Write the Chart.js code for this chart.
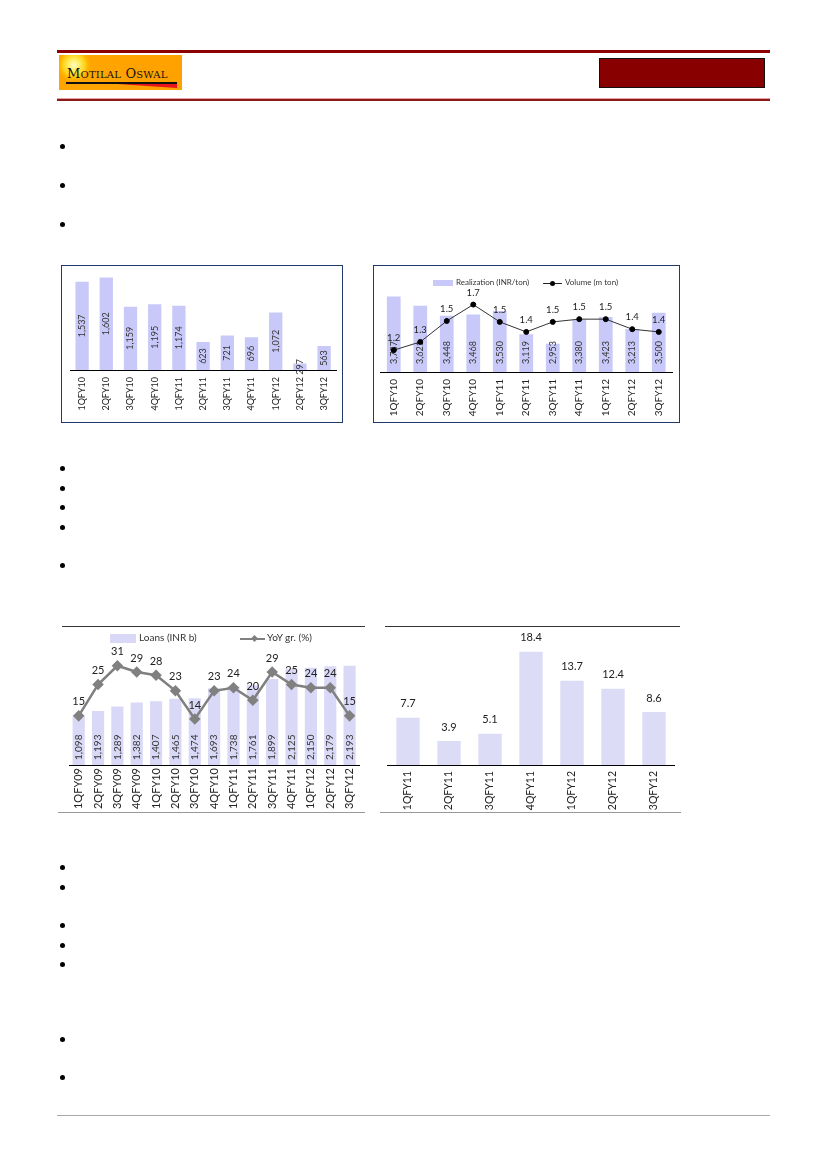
<!DOCTYPE html>
<html>
<head>
<meta charset="utf-8">
<script src="https://cdn.jsdelivr.net/npm/chart.js@4.4.1/dist/chart.umd.min.js"></script>
<style>
  body { margin: 0; background: #fff; width: 827px; height: 1170px; position: relative; overflow: hidden; font-family: Lato, "Open Sans", sans-serif; }
  .abs { position: absolute; }
  .bullet { position: absolute; width: 5px; height: 5px; border-radius: 50%; background: #000; left: 60px; }
  #logo { left: 59px; top: 55px; width: 123px; height: 35px; overflow: hidden;
          background: radial-gradient(circle at 15px 10px, #fffbd0 0, #fff06a 5px, #ffd21a 11px, #ffb300 14px, #ffa500 17px, #ffa200 60px); }
  #logo .brand { position: absolute; left: 8px; top: 11px; font-family: "DejaVu Serif", serif; font-size: 13px; color: #111; letter-spacing: 0.2px; white-space: nowrap; }
  #logo .brand small { font-size: 10px; }
  #logo .uline { position: absolute; left: 7px; top: 27px; width: 111px; height: 1.5px; background: #111; }
  #logo .swoosh { position: absolute; left: 58px; top: 29px; width: 60px; height: 4px; background: #e8141b; clip-path: polygon(0 0, 100% 0, 100% 100%); }
  .chartbox { position: absolute; }
  .legend { position: absolute; font-size: 8px; color: #333; white-space: nowrap; }
  .legend span { position: absolute; top: 0; }
</style>
</head>
<body>
<!-- header -->
<div class="abs" style="left:57px;top:50px;width:713px;height:3px;background:#8b0000;"></div>
<div id="logo" class="abs"><span class="brand">M<small>OTILAL</small> O<small>SWAL</small></span><div class="uline"></div><div class="swoosh"></div></div>
<div class="abs" style="left:599px;top:58px;width:164px;height:28px;background:#880000;border:1px solid #111;"></div>
<div class="abs" style="left:57px;top:98px;width:713px;height:1px;background:#e6a0a0;"></div>
<div class="abs" style="left:57px;top:99px;width:713px;height:2px;background:#8b1a1a;"></div>

<!-- bullets -->
<div class="bullet" style="top:144px"></div>
<div class="bullet" style="top:183px"></div>
<div class="bullet" style="top:222px"></div>
<div class="bullet" style="top:466px"></div>
<div class="bullet" style="top:486px"></div>
<div class="bullet" style="top:505px"></div>
<div class="bullet" style="top:525px"></div>
<div class="bullet" style="top:563px"></div>
<div class="bullet" style="top:865px"></div>
<div class="bullet" style="top:885px"></div>
<div class="bullet" style="top:923px"></div>
<div class="bullet" style="top:943px"></div>
<div class="bullet" style="top:962px"></div>
<div class="bullet" style="top:1037px"></div>
<div class="bullet" style="top:1075px"></div>

<!-- chart 1 -->
<div class="abs" style="left:61px;top:265px;width:280px;height:156px;border:1px solid #1f3a68;"></div>
<div class="chartbox" style="left:62px;top:266px;width:280px;height:156px;"><canvas id="c1"></canvas></div>

<!-- chart 2 -->
<div class="abs" style="left:373px;top:265px;width:305px;height:156px;border:1px solid #1f3a68;"></div>
<div class="chartbox" style="left:374px;top:266px;width:305px;height:156px;"><canvas id="c2"></canvas></div>
<div class="legend" style="left:0;top:277px;">
  <div class="abs" style="left:433px;top:3px;width:20px;height:6px;background:#c9c9f9;"></div>
  <span style="left:456px;">Realization (INR/ton)</span>
  <div class="abs" style="left:543px;top:6px;width:19px;height:0;border-top:1px solid #222;"></div>
  <div class="abs" style="left:550px;top:4px;width:5px;height:5px;border-radius:50%;background:#000;"></div>
  <span style="left:565px;">Volume (m ton)</span>
</div>

<!-- chart 3 -->
<div class="abs" style="left:62px;top:626px;width:303px;height:1px;background:#333;"></div>
<div class="abs" style="left:58px;top:812px;width:307px;height:1px;background:#999;"></div>
<div class="chartbox" style="left:60px;top:627px;width:306px;height:185px;"><canvas id="c3"></canvas></div>
<div class="legend" style="left:0;top:631px;font-size:10px;">
  <div class="abs" style="left:110px;top:3px;width:26px;height:9px;background:#d9d9f7;"></div>
  <span style="left:139px;">Loans (INR b)</span>
  <div class="abs" style="left:240px;top:7px;width:25px;height:0;border-top:2px solid #808080;"></div>
  <div class="abs" style="left:252px;top:5px;width:5px;height:5px;background:#808080;transform:rotate(45deg);"></div>
  <span style="left:267px;">YoY gr. (%)</span>
</div>

<!-- chart 4 -->
<div class="abs" style="left:385px;top:626px;width:295px;height:1px;background:#333;"></div>
<div class="abs" style="left:380px;top:812px;width:301px;height:1px;background:#999;"></div>
<div class="chartbox" style="left:383px;top:627px;width:297px;height:185px;"><canvas id="c4"></canvas></div>

<!-- footer -->
<div class="abs" style="left:57px;top:1115px;width:713px;height:1px;background:#aaa;"></div>

<script>
// chart 1
const c1Labels = ['1QFY10','2QFY10','3QFY10','4QFY10','1QFY11','2QFY11','3QFY11','4QFY11','1QFY12','2QFY12','3QFY12'];
const c1Values = [1537, 1602, 1159, 1195, 1174, 623, 721, 696, 1072, 297, 563];

// chart 2
const c2Labels = ['1QFY10','2QFY10','3QFY10','4QFY10','1QFY11','2QFY11','3QFY11','4QFY11','1QFY12','2QFY12','3QFY12'];
const c2Realization = [3787, 3621, 3448, 3468, 3530, 3119, 2953, 3380, 3423, 3213, 3500];
const c2Volume = [1.2, 1.29, 1.52, 1.7, 1.51, 1.4, 1.51, 1.54, 1.54, 1.43, 1.4];

// chart 3
const c3Labels = ['1QFY09','2QFY09','3QFY09','4QFY09','1QFY10','2QFY10','3QFY10','4QFY10','1QFY11','2QFY11','3QFY11','4QFY11','1QFY12','2QFY12','3QFY12'];
const c3Loans = [1098, 1193, 1289, 1382, 1407, 1465, 1474, 1693, 1738, 1761, 1899, 2125, 2150, 2179, 2193];
const c3Growth = [15, 25, 31, 29, 28, 23, 14, 23, 24, 20, 29, 25, 24, 24, 15];

// chart 4
const c4Labels = ['1QFY11','2QFY11','3QFY11','4QFY11','1QFY12','2QFY12','3QFY12'];
const c4Values = [7.7, 3.9, 5.1, 18.4, 13.7, 12.4, 8.6];

const FONT = 'Lato, "Open Sans", sans-serif';
const commas = v => v.toLocaleString('en-US');

// draws value labels for a dataset right after that dataset is drawn
const valueLabels = {
    id: 'valueLabels',
    afterDatasetDraw(chart, args) {
        const ds = chart.data.datasets[args.index];
        const lab = ds.valueLabels;
        if (!lab) return;
        const ctx = chart.ctx;
        const bottom = chart.chartArea.bottom;
        args.meta.data.forEach((el, j) => {
            const txt = lab.fmt(ds.data[j]);
            const base = Math.min(el.base, bottom); // axis doesn't start at 0
            let y;
            if (lab.pos === 'center') y = (el.y + base) / 2;
            else if (lab.pos === 'base') y = base - lab.offset;
            else y = el.y - lab.offset;
            ctx.save();
            ctx.font = lab.size + 'px ' + FONT;
            ctx.fillStyle = lab.color;
            ctx.translate(el.x, y);
            if (lab.rotate) ctx.rotate(-Math.PI / 2);
            ctx.textAlign = lab.pos === 'base' ? 'left' : 'center';
            ctx.textBaseline = 'middle';
            ctx.fillText(txt, 0, 0);
            ctx.restore();
        });
    }
};

function xAxis(size, padding, height) {
    return {
        grid: { display: false, drawTicks: false },
        border: { display: true, color: '#000', width: 1 },
        ticks: { autoSkip: false, minRotation: 90, maxRotation: 90, padding: padding, color: '#222', font: { family: FONT, size: size } },
        afterFit: s => { s.height = height; }
    };
}

function hidden(min, max) {
    return { display: false, min: min, max: max };
}

const baseOptions = (padding) => ({
    responsive: true,
    maintainAspectRatio: false,
    animation: false,
    layout: { padding: padding },
    plugins: { legend: { display: false }, tooltip: { enabled: false } }
});

new Chart(document.getElementById('c1'), {
    type: 'bar',
    data: {
        labels: c1Labels,
        datasets: [{
            data: c1Values,
            backgroundColor: '#c9c9f9',
            barPercentage: 0.55,
            categoryPercentage: 1,
            valueLabels: { pos: 'center', rotate: true, size: 9, color: '#333', fmt: commas }
        }]
    },
    options: Object.assign(baseOptions({ left: 8, right: 2, top: 5, bottom: 0 }), {
        scales: { x: xAxis(9, 7, 52), y: hidden(200, 1700) }
    }),
    plugins: [valueLabels]
});

new Chart(document.getElementById('c2'), {
    type: 'bar',
    data: {
        labels: c2Labels,
        datasets: [{
            type: 'line',
            data: c2Volume,
            yAxisID: 'y1',
            order: 0,
            borderColor: '#333',
            borderWidth: 1,
            pointBackgroundColor: '#000',
            pointBorderColor: '#000',
            pointRadius: 2.5,
            tension: 0,
            valueLabels: { pos: 'above', offset: 12, size: 9.5, color: '#222', fmt: v => v.toFixed(1) }
        }, {
            data: c2Realization,
            order: 1,
            backgroundColor: '#c9c9f9',
            barPercentage: 0.52,
            categoryPercentage: 1,
            valueLabels: { pos: 'base', offset: 8, rotate: true, size: 9, color: '#333', fmt: commas }
        }]
    },
    options: Object.assign(baseOptions({ left: 6.5, right: 7, top: 24, bottom: 0 }), {
        scales: { x: xAxis(10, 7, 50), y: hidden(2455, 3900), y1: hidden(0.96, 1.86) }
    }),
    plugins: [valueLabels]
});

new Chart(document.getElementById('c3'), {
    type: 'bar',
    data: {
        labels: c3Labels,
        datasets: [{
            type: 'line',
            data: c3Growth,
            yAxisID: 'y1',
            order: 0,
            borderColor: '#808080',
            borderWidth: 2.5,
            pointStyle: 'rectRot',
            pointRadius: 4,
            pointBackgroundColor: '#808080',
            pointBorderColor: '#808080',
            tension: 0,
            valueLabels: { pos: 'above', offset: 14, size: 11, color: '#222', fmt: v => String(v) }
        }, {
            data: c3Loans,
            order: 1,
            backgroundColor: '#d9d9f7',
            barPercentage: 0.63,
            categoryPercentage: 1,
            valueLabels: { pos: 'base', offset: 5, rotate: true, size: 10, color: '#333', fmt: commas }
        }]
    },
    options: Object.assign(baseOptions({ left: 9, right: 5, top: 15, bottom: 0 }), {
        scales: { x: xAxis(11, 3, 47), y: hidden(0, 2716), y1: hidden(-0.7, 38.6) }
    }),
    plugins: [valueLabels]
});

new Chart(document.getElementById('c4'), {
    type: 'bar',
    data: {
        labels: c4Labels,
        datasets: [{
            data: c4Values,
            backgroundColor: '#dcdcf7',
            barPercentage: 0.57,
            categoryPercentage: 1,
            valueLabels: { pos: 'above', offset: 14, size: 11, color: '#222', fmt: v => v.toFixed(1) }
        }]
    },
    options: Object.assign(baseOptions({ left: 4.5, right: 5.5, top: 15, bottom: 0 }), {
        scales: { x: xAxis(10.5, 6, 47), y: hidden(0, 20) }
    }),
    plugins: [valueLabels]
});
</script>
</body>
</html>
